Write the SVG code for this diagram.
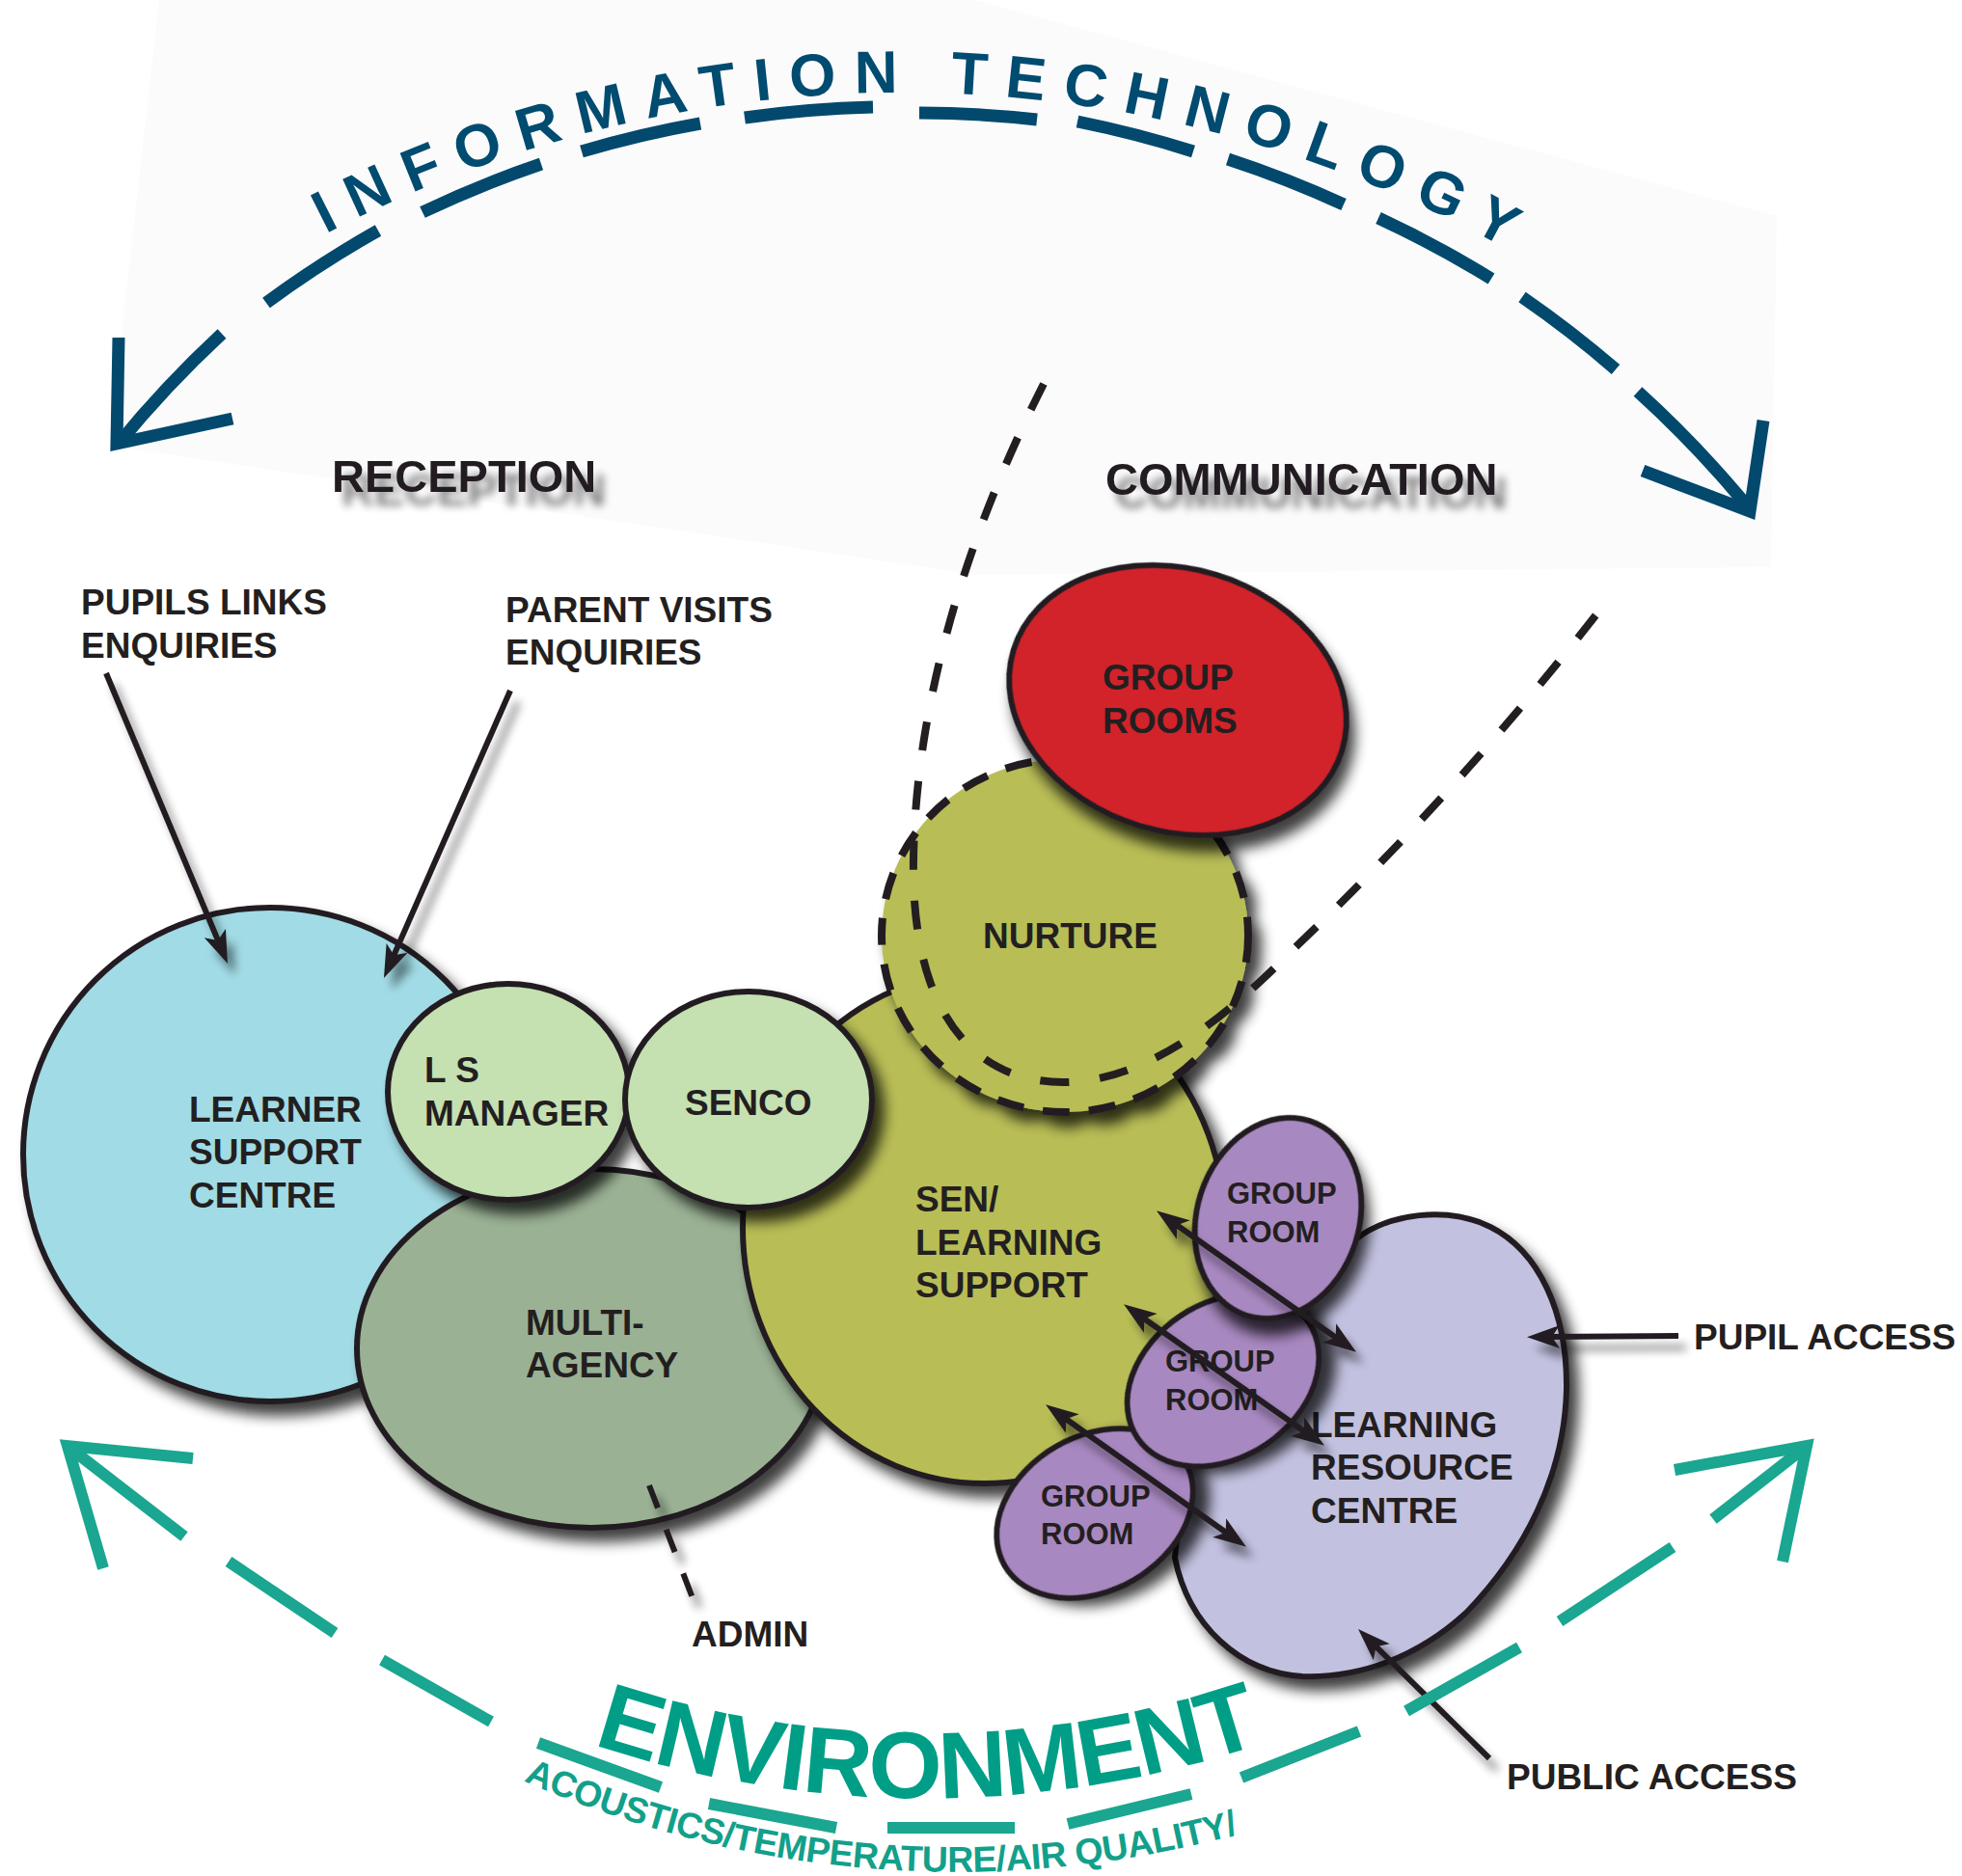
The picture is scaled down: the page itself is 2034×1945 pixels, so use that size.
<svg xmlns="http://www.w3.org/2000/svg" width="2034" height="1945" viewBox="0 0 2034 1945">
<defs>
<style>
.lbl{font-family:"Liberation Sans",Arial,sans-serif;font-weight:bold;fill:#231f20;font-size:37px}
.sm{font-size:31px}
.big{font-size:47px}
.node{stroke:#231f20;stroke-width:6}
.conn{stroke:#231f20;stroke-width:6;fill:none}
.it{stroke:#02496d;stroke-width:13;fill:none}
.env{stroke:#1aa690;stroke-width:12;fill:none}
.dash{stroke:#231f20;stroke-width:8;fill:none;stroke-dasharray:30 32}
</style>
<filter id="sh" filterUnits="userSpaceOnUse" x="0" y="0" width="2034" height="1945">
<feGaussianBlur in="SourceAlpha" stdDeviation="7"/>
<feOffset dx="10" dy="12"/>
<feComponentTransfer><feFuncA type="linear" slope="0.75"/></feComponentTransfer>
<feMerge><feMergeNode/><feMergeNode in="SourceGraphic"/></feMerge>
</filter>
<filter id="lsh" filterUnits="userSpaceOnUse" x="0" y="0" width="2034" height="1945">
<feGaussianBlur in="SourceAlpha" stdDeviation="5"/>
<feOffset dx="8" dy="12"/>
<feComponentTransfer><feFuncA type="linear" slope="0.45"/></feComponentTransfer>
<feMerge><feMergeNode/><feMergeNode in="SourceGraphic"/></feMerge>
</filter>
<filter id="tsh" filterUnits="userSpaceOnUse" x="0" y="0" width="2034" height="1945">
<feGaussianBlur in="SourceAlpha" stdDeviation="4"/>
<feOffset dx="10" dy="14"/>
<feComponentTransfer><feFuncA type="linear" slope="0.5"/></feComponentTransfer>
<feMerge><feMergeNode/><feMergeNode in="SourceGraphic"/></feMerge>
</filter>
<marker id="ah" markerUnits="userSpaceOnUse" markerWidth="60" markerHeight="40" viewBox="-20 -20 60 40" refX="0" refY="0" orient="auto-start-reverse">
<path d="M22,0 L-12,-12 L-4,0 L-12,12 Z" fill="#231f20"/>
</marker>
<path id="itp" d="M200,326 A1290,1290 0 0 1 1700,347" fill="none"/>
<path id="envp" d="M560,1789 A1100,1100 0 0 0 1360,1789" fill="none"/>
<path id="acp" d="M520,1836 A1112,1112 0 0 0 1320,1891" fill="none"/>
</defs>

<rect x="0" y="0" width="2034" height="1945" fill="#ffffff"/>
<g id="backdrop">
<polygon points="165,0 1010,0 1842,224 1836,588 1012,596 113,462" fill="#fbfbfb"/>
</g>

<g id="information-technology">
<path class="it" d="M122,461 A1127,1127 0 0 1 230,346"/>
<path class="it" d="M276,314 A1127,1127 0 0 1 392,239"/>
<path class="it" d="M438,220 A1127,1127 0 0 1 561,170"/>
<path class="it" d="M603,157 A1127,1127 0 0 1 726,128"/>
<path class="it" d="M772,122 A1127,1127 0 0 1 905,111"/>
<path class="it" d="M953,117 A1127,1127 0 0 1 1075,124"/>
<path class="it" d="M1117,126 A1127,1127 0 0 1 1237,157"/>
<path class="it" d="M1273,165 A1127,1127 0 0 1 1393,212"/>
<path class="it" d="M1429,226 A1127,1127 0 0 1 1546,289"/>
<path class="it" d="M1578,308 A1127,1127 0 0 1 1675,383"/>
<path class="it" d="M1698,406 A1127,1127 0 0 1 1814,528"/>
<polyline class="it" points="123,350 121,460 241,434"/>
<polyline class="it" points="1828,436 1814,530 1703,488"/>
<text font-family="Liberation Sans, Arial, sans-serif" font-weight="bold" font-size="62" fill="#004b70" letter-spacing="18.4"><textPath href="#itp" startOffset="161">INFORMATION TECHNOLOGY</textPath></text>
</g>

<g id="learner-support-centre">
<circle class="node" cx="280" cy="1197" r="256" fill="#a1dbe5" filter="url(#sh)"/>
<text class="lbl"><tspan x="196" y="1163">LEARNER</tspan><tspan x="196" y="1207">SUPPORT</tspan><tspan x="196" y="1252">CENTRE</tspan></text>
</g>

<g id="multi-agency">
<ellipse class="node" cx="613" cy="1398" rx="243" ry="186" fill="#9ab194" filter="url(#sh)"/>
<text class="lbl"><tspan x="545" y="1384">MULTI-</tspan><tspan x="545" y="1428">AGENCY</tspan></text>
</g>

<g id="ls-manager">
<ellipse class="node" cx="527" cy="1132" rx="125" ry="112" fill="#c5e0b1" filter="url(#sh)"/>
<text class="lbl"><tspan x="440" y="1122">L S</tspan><tspan x="440" y="1167">MANAGER</tspan></text>
</g>

<g id="sen-learning-support">
<ellipse class="node" cx="1020" cy="1273" rx="250" ry="265" fill="#b8bd57" filter="url(#sh)"/>
<text class="lbl"><tspan x="949" y="1256">SEN/</tspan><tspan x="949" y="1301">LEARNING</tspan><tspan x="949" y="1345">SUPPORT</tspan></text>
</g>

<g id="senco">
<ellipse class="node" cx="776" cy="1140" rx="128" ry="112" fill="#c5e0b1" filter="url(#sh)"/>
<text class="lbl" x="710" y="1156">SENCO</text>
</g>

<g id="nurture">
<ellipse cx="1104" cy="970" rx="190" ry="183" fill="#b8bd57" stroke="#231f20" stroke-width="8" stroke-dasharray="28 20" filter="url(#sh)"/>
<text class="lbl" x="1019" y="983">NURTURE</text>
</g>

<g id="communication-boundary">
<path class="dash" d="M1082,398 C1020,520 950,700 947,890 C944,1050 1010,1122 1102,1122 C1200,1122 1290,1035 1340,985 C1450,880 1560,760 1669,619"/>
</g>

<g id="group-rooms">
<ellipse class="node" cx="1221" cy="726" rx="178" ry="136" transform="rotate(17 1221 726)" fill="#d2232a" filter="url(#sh)"/>
<text class="lbl"><tspan x="1143" y="715">GROUP</tspan><tspan x="1143" y="760">ROOMS</tspan></text>
</g>

<g id="learning-resource-centre">
<path class="node" d="M1405,1285 C1440,1258 1500,1250 1545,1272 C1595,1297 1625,1360 1624,1440 C1622,1530 1580,1610 1520,1672 C1470,1718 1410,1740 1350,1738 C1285,1734 1232,1685 1218,1615 L1230,1500 Z" fill="#c2c1e0" filter="url(#sh)"/>
<text class="lbl"><tspan x="1359" y="1490">LEARNING</tspan><tspan x="1359" y="1534">RESOURCE</tspan><tspan x="1359" y="1579">CENTRE</tspan></text>
</g>

<g id="group-room-3">
<ellipse class="node" cx="1135" cy="1569" rx="108" ry="80" transform="rotate(-30 1135 1569)" fill="#a888c0" filter="url(#sh)"/>
<text class="lbl sm"><tspan x="1079" y="1562">GROUP</tspan><tspan x="1079" y="1601">ROOM</tspan></text>
</g>

<g id="group-room-2">
<ellipse class="node" cx="1268" cy="1431" rx="107" ry="80" transform="rotate(-34 1268 1431)" fill="#a888c0" filter="url(#sh)"/>
<text class="lbl sm"><tspan x="1208" y="1422">GROUP</tspan><tspan x="1208" y="1462">ROOM</tspan></text>
</g>

<g id="group-room-1">
<ellipse class="node" cx="1325" cy="1263" rx="84" ry="106" transform="rotate(18 1325 1263)" fill="#a888c0" filter="url(#sh)"/>
<text class="lbl sm"><tspan x="1272" y="1248">GROUP</tspan><tspan x="1272" y="1288">ROOM</tspan></text>
</g>

<g id="connectors" filter="url(#lsh)">
<line class="conn" x1="110" y1="698" x2="227.5" y2="978.7" marker-end="url(#ah)"/>
<line class="conn" x1="529" y1="716" x2="406.8" y2="993.9" marker-end="url(#ah)"/>
<line class="conn" x1="1740" y1="1385" x2="1605" y2="1386" marker-end="url(#ah)"/>
<line class="conn" x1="1544" y1="1823" x2="1423.7" y2="1704.4" marker-end="url(#ah)"/>
<line class="conn" x1="1217" y1="1268" x2="1388" y2="1389" marker-start="url(#ah)" marker-end="url(#ah)"/>
<line class="conn" x1="1183" y1="1365" x2="1355" y2="1486" marker-start="url(#ah)" marker-end="url(#ah)"/>
<line class="conn" x1="1102" y1="1469" x2="1274" y2="1591" marker-start="url(#ah)" marker-end="url(#ah)"/>
<line class="conn" x1="673" y1="1540" x2="720" y2="1662" stroke-width="7" stroke-dasharray="25 24"/>
</g>

<g id="labels">
<text class="lbl big" x="344" y="510" filter="url(#tsh)">RECEPTION</text>
<text class="lbl big" x="1146" y="513" filter="url(#tsh)">COMMUNICATION</text>
<text class="lbl" font-size="36"><tspan x="84" y="637">PUPILS LINKS</tspan><tspan x="84" y="682">ENQUIRIES</tspan></text>
<text class="lbl" font-size="36"><tspan x="524" y="645">PARENT VISITS</tspan><tspan x="524" y="689">ENQUIRIES</tspan></text>
<text class="lbl" x="717" y="1707">ADMIN</text>
<text class="lbl" x="1756" y="1399">PUPIL ACCESS</text>
<text class="lbl" x="1562" y="1855">PUBLIC ACCESS</text>
</g>

<g id="environment">
<path class="env" d="M76,1504 L191,1593"/>
<path class="env" d="M237,1619 L347,1693"/>
<path class="env" d="M396,1721 L509,1785"/>
<path class="env" d="M558,1807 L685,1853"/>
<path class="env" d="M735,1870 L867,1895"/>
<path class="env" d="M920,1895 L1052,1895"/>
<path class="env" d="M1107,1891 L1235,1860"/>
<path class="env" d="M1287,1843 L1409,1795"/>
<path class="env" d="M1458,1774 L1575,1708"/>
<path class="env" d="M1617,1681 L1734,1604"/>
<path class="env" d="M1776,1575 L1868,1503"/>
<polyline class="env" points="200,1512 70,1499 107,1626"/>
<polyline class="env" points="1736,1524 1873,1499 1848,1619"/>
<text font-family="Liberation Sans, Arial, sans-serif" font-weight="bold" font-size="98" fill="#009e86" letter-spacing="-1.7"><textPath href="#envp" startOffset="58">ENVIRONMENT</textPath></text>
<text font-family="Liberation Sans, Arial, sans-serif" font-weight="bold" font-size="37.5" fill="#12a08a" letter-spacing="-0.5"><textPath href="#acp" startOffset="25">ACOUSTICS/TEMPERATURE/AIR QUALITY/</textPath></text>
</g>
</svg>
